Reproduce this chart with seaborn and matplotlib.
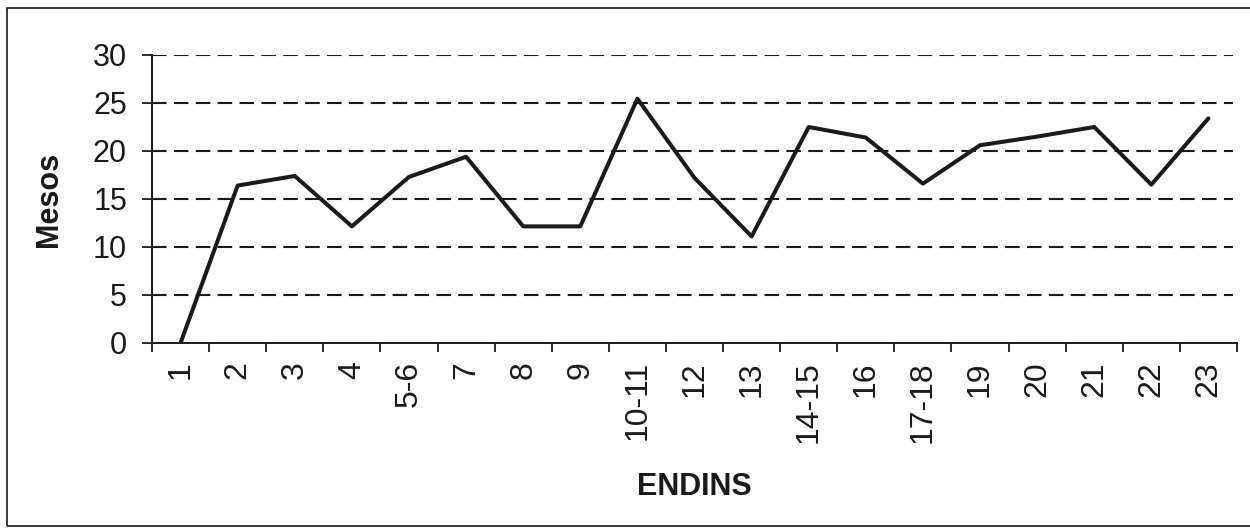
import seaborn as sns
import matplotlib.pyplot as plt
import pandas as pd
from matplotlib.patches import Rectangle

endins = ["1", "2", "3", "4", "5-6", "7", "8", "9", "10-11", "12", "13",
          "14-15", "16", "17-18", "19", "20", "21", "22", "23"]
mesos = [0, 16.4, 17.4, 12.15, 17.3, 19.4, 12.15, 12.15, 25.45, 17.2, 11.1,
         22.5, 21.4, 16.6, 20.6, 21.5, 22.5, 16.5, 23.4]
y_ticks = [0, 5, 10, 15, 20, 25, 30]

sns.set_style("white")
plt.rcParams["font.family"] = ["Liberation Sans", "DejaVu Sans"]

df = pd.DataFrame({"pos": range(len(endins)), "mesos": mesos})

fig = plt.figure(figsize=(12.5, 5.31), dpi=100)
ax = fig.add_axes([152 / 1250, 1 - 343 / 531, (1237 - 152) / 1250, (343 - 55) / 531])

# dashed horizontal grid
for v in y_ticks[1:]:
    ax.axhline(v, xmax=0.996, color="#1a1a1a", lw=1.5, dashes=(7, 3.5), zorder=1)

sns.lineplot(data=df, x="pos", y="mesos", color="#1a1a1a", lw=2.9, ax=ax, zorder=3)

ax.set_xlim(-0.5, len(endins) - 0.5)
ax.set_ylim(0, 30)
ax.set_yticks(y_ticks)
ax.set_xticks(range(len(endins)))
ax.set_xticklabels(endins, rotation=90)
ax.set_xticks([i - 0.5 for i in range(len(endins) + 1)], minor=True)

ax.tick_params(axis="x", which="major", length=0, pad=13, labelsize=23, labelcolor="#1a1a1a")
ax.tick_params(axis="x", which="minor", length=6.5, width=1.3, color="#1a1a1a", direction="out", bottom=True)
ax.tick_params(axis="y", length=7, width=1.3, color="#1a1a1a", pad=11, labelsize=22,
               labelcolor="#1a1a1a", left=True, direction="out")

for s in ["top", "right"]:
    ax.spines[s].set_visible(False)
for s in ["left", "bottom"]:
    ax.spines[s].set_color("#1a1a1a")
    ax.spines[s].set_linewidth(1.4)

ax.set_xlabel("ENDINS", fontsize=22, fontweight="bold", color="#1a1a1a")
ax.set_ylabel("Mesos", fontsize=22, fontweight="bold", color="#1a1a1a")
ax.xaxis.set_label_coords(0.5, -(472 - 343) / 288)
ax.yaxis.set_label_coords(-(152 - 64) / 1085, 0.5)

# outer frame
fig.patches.append(Rectangle((7 / 1250, 1 - 526 / 531), 1.2, (526 - 8) / 531,
                             transform=fig.transFigure, fill=False,
                             edgecolor="#1a1a1a", lw=1.2))

fig.savefig("out.png", dpi=100)
